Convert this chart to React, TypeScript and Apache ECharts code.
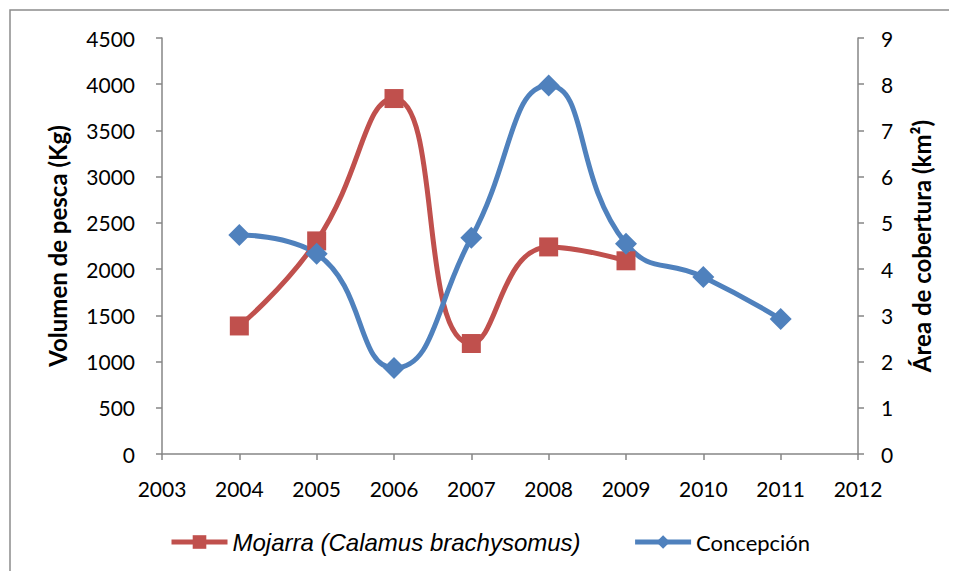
import React, { useEffect, useRef } from "react";
import * as echarts from "echarts";

const years = [2004, 2005, 2006, 2007, 2008, 2009, 2010, 2011];
const mojarra = [1385, 2305, 3845, 1195, 2240, 2090];
const concepcion = [4.74, 4.33, 1.86, 4.68, 7.97, 4.55, 3.83, 2.92];
const leftTitle = "Volumen de pesca (Kg)";
const rightTitle = "Área de cobertura (km²)";
const mojarraName = "Mojarra (Calamus brachysomus)";
const concepcionName = "Concepción";

const FONT = "Lato, 'Open Sans', sans-serif";
const ITALIC_FONT = "'Liberation Sans', Arial, sans-serif";
const AXIS = "#868686";

export default function App() {
  const ref = useRef<HTMLDivElement>(null);
  useEffect(() => {
    if (!ref.current) return;
    const chart = echarts.init(ref.current, null, { renderer: "svg" });
    const plain = (v: number) => String(v);
    const axisCommon = {
      axisLine: { show: true, lineStyle: { color: AXIS, width: 1.5 } },
      axisTick: { show: true, length: 6, lineStyle: { color: AXIS, width: 1.5 } },
      splitLine: { show: false },
      axisLabel: { color: "#000", fontSize: 21, fontFamily: FONT, formatter: plain },
    };
    const titleStyle = { fontSize: 24, fontWeight: "bold", color: "#000", fontFamily: FONT };
    chart.setOption({
      animation: false,
      textStyle: { fontFamily: FONT },
      graphic: [
        {
          type: "rect",
          shape: { x: 10, y: 10, width: 960, height: 600 },
          style: { fill: "none", stroke: "#8c8c8c", lineWidth: 1.5 },
          silent: true,
        },
      ],
      grid: { left: 162, right: 99, top: 38, bottom: 125 },
      legend: {
        bottom: 20,
        left: 164,
        itemWidth: 56,
        itemHeight: 17,
        itemGap: 52,
        lineStyle: { width: 5 },
        textStyle: {
          fontSize: 22,
          color: "#000",
          fontFamily: FONT,
          rich: { i: { fontStyle: "italic", fontSize: 24, fontFamily: ITALIC_FONT, color: "#000" } },
        },
        formatter: (n: string) => (n === mojarraName ? "{i|" + n + "}" : n),
        data: [mojarraName, concepcionName],
      },
      xAxis: {
        type: "value",
        min: 2003,
        max: 2012,
        interval: 1,
        ...axisCommon,
        axisLabel: { ...axisCommon.axisLabel, margin: 24 },
      },
      yAxis: [
        {
          type: "value",
          min: 0,
          max: 4500,
          interval: 500,
          position: "left",
          ...axisCommon,
          axisLabel: { ...axisCommon.axisLabel, margin: 27 },
          name: leftTitle,
          nameLocation: "middle",
          nameGap: 93,
          nameTextStyle: titleStyle,
        },
        {
          type: "value",
          min: 0,
          max: 9,
          interval: 1,
          position: "right",
          ...axisCommon,
          axisLabel: { ...axisCommon.axisLabel, margin: 23 },
          name: rightTitle,
          nameLocation: "middle",
          nameGap: 51,
          nameRotate: 90,
          nameTextStyle: titleStyle,
        },
      ],
      series: [
        {
          name: mojarraName,
          type: "line",
          yAxisIndex: 0,
          smooth: 0.5,
          data: mojarra.map((v, i) => [years[i], v]),
          symbol: "rect",
          symbolSize: 19,
          lineStyle: { color: "#C0504D", width: 5 },
          itemStyle: { color: "#C0504D" },
        },
        {
          name: concepcionName,
          type: "line",
          yAxisIndex: 1,
          smooth: 0.5,
          data: concepcion.map((v, i) => [years[i], v]),
          symbol: "diamond",
          symbolSize: 22,
          lineStyle: { color: "#4F81BD", width: 5 },
          itemStyle: { color: "#4F81BD" },
        },
      ],
    });
    return () => chart.dispose();
  }, []);
  return <div ref={ref} style={{ width: 957, height: 579, margin: -8 }} />;
}
